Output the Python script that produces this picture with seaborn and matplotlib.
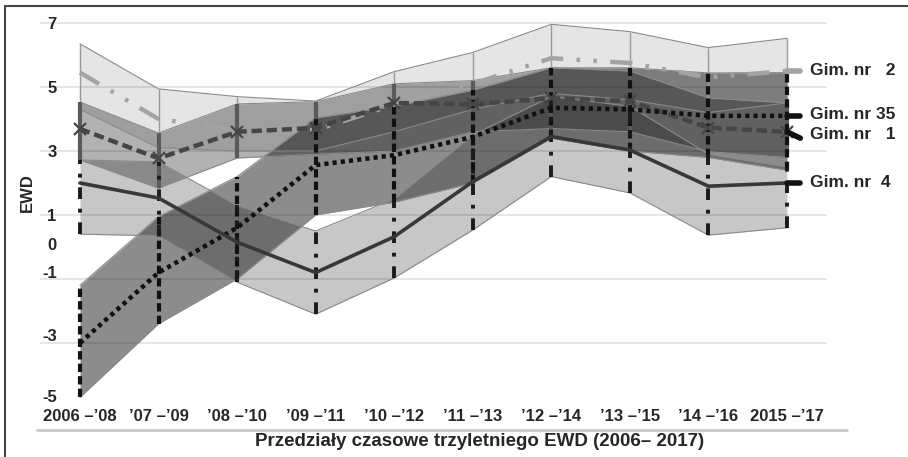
import pandas as pd
import seaborn as sns
import matplotlib.pyplot as plt
from matplotlib.lines import Line2D
from matplotlib.transforms import ScaledTranslation

# periods of the three-year EWD indicator
periods = ["2006 –’08", "’07 –’09", "’08 –’10", "’09 –’11", "’10 –’12",
           "’11 –’13", "’12 –’14", "’13 –’15", "’14 –’16", "2015 –’17"]
schools = ["Gim. nr 2", "Gim. nr 1", "Gim. nr 35", "Gim. nr 4"]

# EWD values and confidence ranges
gim2 = [5.45, 4.0, 3.65, 3.65, 4.45, 5.1, 5.9, 5.75, 5.3, 5.5]
gim2_hi = [6.35, 4.94, 4.70, 4.56, 5.48, 6.08, 6.96, 6.73, 6.23, 6.52]
gim2_lo = [4.3, 3.1, 3.0, 3.0, 3.6, 4.3, 4.8, 4.6, 4.2, 4.5]

gim1 = [3.69, 2.77, 3.6, 3.72, 4.5, 4.46, 4.65, 4.56, 3.73, 3.6]
gim1_hi = [4.53, 3.56, 4.47, 4.54, 5.1, 5.2, 5.6, 5.5, 4.66, 4.5]
gim1_lo = [2.72, 1.84, 2.78, 2.9, 3.0, 3.6, 3.7, 3.6, 2.98, 2.8]

gim35 = [-3.0, -0.8, 0.6, 2.56, 2.87, 3.44, 4.35, 4.3, 4.1, 4.1]
gim35_hi = [-1.2, 0.95, 2.2, 4.03, 4.4, 4.9, 5.6, 5.6, 5.44, 5.45]
gim35_lo = [-4.7, -2.4, -1.0, 1.0, 1.4, 2.0, 3.4, 3.0, 2.8, 2.4]

gim4 = [2.0, 1.53, 0.15, -0.8, 0.32, 2.04, 3.45, 3.03, 1.9, 2.0]
gim4_hi = [2.72, 2.66, 1.3, 0.5, 1.5, 3.5, 4.7, 4.4, 2.9, 2.5]
gim4_lo = [0.4, 0.35, -1.1, -2.1, -0.97, 0.53, 2.2, 1.69, 0.37, 0.6]

labels = {"Gim. nr 2": "Gim. nr   2", "Gim. nr 1": "Gim. nr   1",
          "Gim. nr 35": "Gim. nr 35", "Gim. nr 4": "Gim. nr  4"}

df = pd.DataFrame({
    "okres": periods * 4,
    "pos": list(range(len(periods))) * 4,
    "szkola": [s for s in schools for _ in periods],
    "ewd": gim2 + gim1 + gim35 + gim4,
    "lo": gim2_lo + gim1_lo + gim35_lo + gim4_lo,
    "hi": gim2_hi + gim1_hi + gim35_hi + gim4_hi,
})

band_alpha = {"Gim. nr 2": 0.10, "Gim. nr 1": 0.30, "Gim. nr 35": 0.45, "Gim. nr 4": 0.22}
line_style = {
    "Gim. nr 2": dict(color="#a3a3a3", lw=3.2, ls=(0, (5, 3, 0.8, 3, 0.8, 3))),
    "Gim. nr 1": dict(color="#454545", lw=3.2, ls=(0, (2.3, 1.1)), marker="x", ms=9, mew=1.6),
    "Gim. nr 35": dict(color="#111111", lw=3.3, ls=(0, (0.9, 0.9))),
    "Gim. nr 4": dict(color="#383838", lw=2.6, ls="-"),
}
vert_style = {
    "Gim. nr 2": dict(colors="#9a9a9a", lw=1.0, linestyles="solid"),
    "Gim. nr 1": dict(colors="#5a5a5a", lw=3.0, linestyles="solid"),
    "Gim. nr 35": dict(colors="#111111", lw=3.0, linestyles=(0, (2.0, 1.0))),
    "Gim. nr 4": dict(colors="#1a1a1a", lw=2.8, linestyles=(0, (3, 2.5, 1, 2.5))),
}
label_y = {"Gim. nr 2": 5.5, "Gim. nr 35": 4.15, "Gim. nr 1": 3.5, "Gim. nr 4": 2.0}

sns.set_style("white")
plt.rcParams["font.family"] = ["Liberation Sans", "DejaVu Sans"]
plt.rcParams["font.weight"] = "bold"

fig = plt.figure(figsize=(9.08, 4.57), dpi=100)
ax = fig.add_axes([40 / 908, 27 / 457, 787 / 908, 418.2 / 457])

for v in [7, 5, 3, 1, -1, -3]:
    ax.axhline(v, color="#e2e2e2", lw=1.2, zorder=0)

# bands
for s in schools:
    sub = df[df.szkola == s]
    ax.fill_between(sub.pos, sub.lo, sub.hi, color="black", alpha=band_alpha[s], lw=0, zorder=1)
    ax.plot(sub.pos, sub.lo, color="#8a8a8a", lw=0.8, zorder=2)
    ax.plot(sub.pos, sub.hi, color="#8a8a8a", lw=0.8, zorder=2)

# high-low lines
for s in schools:
    sub = df[df.szkola == s]
    ax.vlines(sub.pos, sub.lo, sub.hi, zorder=3, **vert_style[s])

# EWD lines
for s in schools:
    sub = df[df.szkola == s]
    st = line_style[s]
    sns.lineplot(data=sub, x="pos", y="ewd", color=st["color"], linewidth=st["lw"],
                 linestyle=st["ls"], marker=st.get("marker"), markersize=st.get("ms", 0),
                 markeredgewidth=st.get("mew", 0), markeredgecolor=st["color"],
                 errorbar=None, legend=False, ax=ax, zorder=4)

# end labels with short stubs
for s in schools:
    sub = df[df.szkola == s]
    y_end = sub.ewd.iloc[-1]
    x_end = sub.pos.iloc[-1]
    c = "#a3a3a3" if s == "Gim. nr 2" else "#111111"
    dy = -0.2 if s == "Gim. nr 1" else 0
    ax.plot([x_end, x_end + 0.17], [y_end, y_end + dy], color=c, lw=4,
            solid_capstyle="round", clip_on=False, zorder=5)
    ax.text(x_end + 0.29, label_y[s], labels[s], ha="left", va="center",
            fontsize=12.5, fontweight="bold", clip_on=False)

ax.set_xlim(-0.509, 9.51)
ax.set_ylim(-5.72, 7.35)
ax.set_xticks(range(len(periods)))
ax.set_xticklabels(periods, fontsize=12, fontweight="bold")
ax.set_yticks([7, 5, 3, 1, 0, -1, -3, -5])
ax.set_yticklabels(["7", "5", "3", "1", "0", "-1", "-3", "-5"], fontsize=12, fontweight="bold")
ax.tick_params(axis="x", length=0, pad=-15)
ax.tick_params(axis="y", length=0, pad=-12)
# the lower value labels sit a little above their gridlines in the original
shift_pt = {"0": 2, "-1": 5, "-3": 6, "-5": 8}
for lab in ax.get_yticklabels():
    d = shift_pt.get(lab.get_text(), 0)
    if d:
        lab.set_transform(lab.get_transform() + ScaledTranslation(0, d / 72, fig.dpi_scale_trans))
ax.set_xlabel("")
ax.set_ylabel("")
for sp in ax.spines.values():
    sp.set_visible(False)

fig.text(27 / 908, 1 - 193 / 457, "EWD", rotation=90, ha="center", va="center",
         fontsize=12, fontweight="bold")
fig.text(480 / 908, 1 - 441 / 457, "Przedziały czasowe trzyletniego EWD (2006– 2017)",
         ha="center", va="center", fontsize=13.5, fontweight="bold")

fig.add_artist(Line2D([37 / 908, 847 / 908], [1 - 430 / 457] * 2, color="#c8c8c8", lw=2))
fig.add_artist(Line2D([5 / 908, 1], [1 - 6 / 457] * 2, color="#444444", lw=1.5))
fig.add_artist(Line2D([5 / 908] * 2, [0, 1 - 6 / 457], color="#444444", lw=1.5))

fig.savefig("out.png", dpi=100)
